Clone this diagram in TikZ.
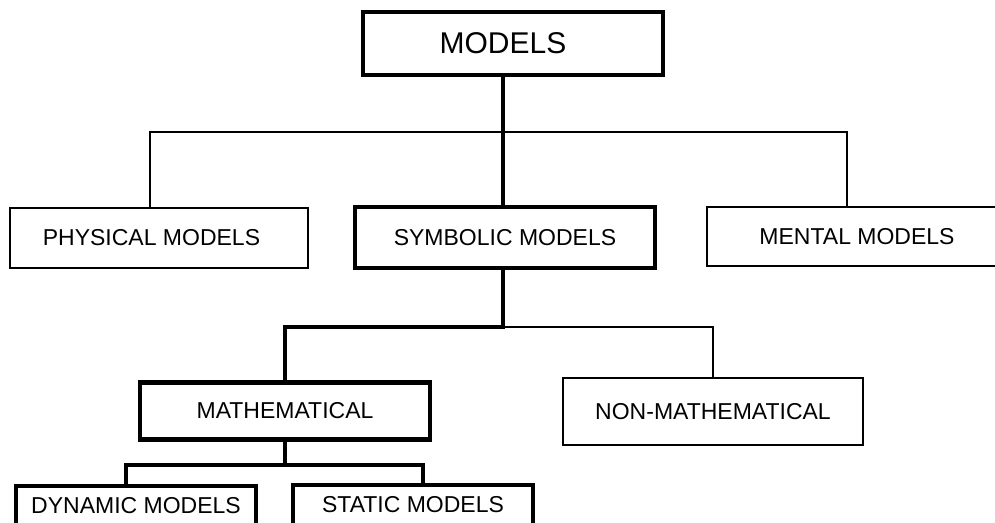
\documentclass[tikz,border=0pt]{standalone}
\usepackage{fontspec}
\setmainfont{Liberation Sans}
\begin{document}
\begin{tikzpicture}[x=1pt,y=-1pt,
  box/.style={draw, line width=2pt, inner sep=0pt, outer sep=0pt, fill=white,
    font=\fontsize{23}{23}\selectfont},
  tbox/.style={box, line width=4.5pt},
  thinline/.style={line width=2pt},
  thickline/.style={line width=4.5pt}]
\useasboundingbox (0,0) rectangle (995,522);
\clip (0,0) rectangle (995,522);
% nodes
\node[tbox, minimum width=300pt, minimum height=63pt, font=\fontsize{30}{30}\selectfont] (models) at (513,43.5) {\hspace*{-20pt}MODELS};
\node[box, minimum width=298pt, minimum height=60pt] (phys) at (159,238) {\hspace*{-15pt}PHYSICAL MODELS};
\node[tbox, minimum width=300pt, minimum height=61pt] (symb) at (505,237.5) {SYMBOLIC MODELS};
\node[box, minimum width=300pt, minimum height=59pt] (ment) at (857,236.5) {MENTAL MODELS};
\node[tbox, minimum width=290pt, minimum height=57pt] (math) at (285,411) {MATHEMATICAL};
\node[box, minimum width=300pt, minimum height=67pt] (nonmath) at (713,411.5) {NON-MATHEMATICAL};
\node[tbox, minimum width=240pt, minimum height=40pt] (dyn) at (136,506) {DYNAMIC MODELS};
\node[tbox, minimum width=240pt, minimum height=40pt] (stat) at (413,505) {STATIC MODELS};
% junction coordinates
\coordinate (j1) at (503,132);
\coordinate (j2) at (503,327);
\coordinate (j3) at (285,465);
% connectors
\draw[thickline] (symb.north -| j1) -- (j1 |- models.south);
\draw[thinline] ([xshift=-9pt]phys.north) |- (j1) -| ([xshift=-10pt]ment.north);
\draw[thickline] (j2 |- symb.south) -- (j2) -| (math.north);
\draw[thinline] (j2) -| (nonmath.north);
\draw[thickline] (math.south) -- (j3);
\draw[thickline] ([xshift=-10pt]dyn.north) |- (j3) -| ([xshift=10pt]stat.north);
\end{tikzpicture}
\end{document}
